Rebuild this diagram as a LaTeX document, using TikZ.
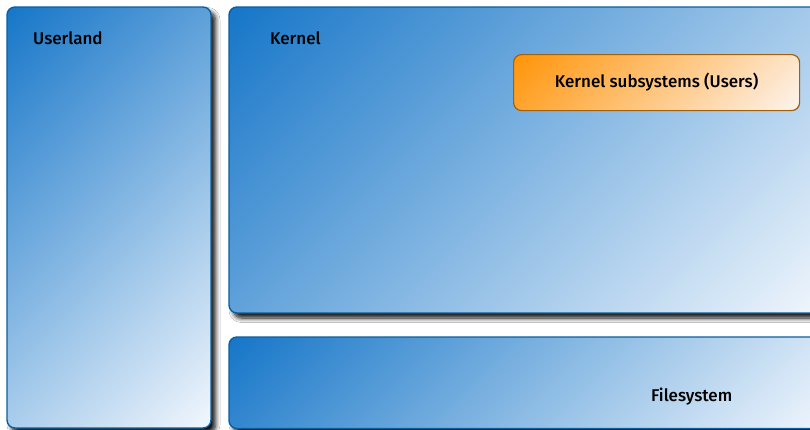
\documentclass[tikz,border=0pt]{standalone}
\usepackage{fontspec}
\setmainfont{Fira Sans}[BoldFont={* Medium}]
\usetikzlibrary{shadows.blur}
\definecolor{bluetop}{HTML}{1676C8}
\definecolor{bluebot}{HTML}{F2F7FD}
\definecolor{blueline}{HTML}{0B5F9C}
\definecolor{orangetop}{HTML}{FF9408}
\definecolor{orangebot}{HTML}{FDF4EE}
\definecolor{orangeline}{HTML}{A0600E}
\pgfdeclareverticalshading{panelshade}{100bp}{color(0bp)=(bluebot); color(14.6bp)=(bluebot); color(85.4bp)=(bluetop); color(100bp)=(bluetop)}
\pgfdeclareverticalshading{subshade}{100bp}{color(0bp)=(orangebot); color(14.6bp)=(orangebot); color(85.4bp)=(orangetop); color(100bp)=(orangetop)}
\tikzset{
  panel/.style={draw=blueline, line width=1.4pt, rounded corners=8pt,
    shading=panelshade, shading angle=45,
    blur shadow={shadow xshift=4.5pt, shadow yshift=-5pt, shadow blur radius=4.5pt, shadow opacity=95, shadow blur steps=8}},
  subbox/.style={draw=orangeline, line width=1.2pt, rounded corners=8pt,
    shading=subshade, shading angle=45},
  lbl/.style={font=\fontsize{17}{20}\selectfont\bfseries, text=black, inner sep=0pt, anchor=west}
}
\begin{document}
\begin{tikzpicture}[x=1pt,y=-1pt]
\useasboundingbox (0,0) rectangle (810,429);
\clip (0,0) rectangle (810,429);
\fill[white] (0,0) rectangle (810,429);
\path[panel] (7,7) rectangle (211,428);
\node[lbl] (userland) at (33,38.5) {Userland};
\path[panel] (229,7) rectangle (830,313);
\node[lbl] (kernel) at (270,38.5) {Kernel};
\path[panel] (229,337) rectangle (830,428.5);
\node[lbl] (fs) at (651,396.5) {Filesystem};
\node[subbox, minimum width=286pt, minimum height=56pt, anchor=north west,
  font=\fontsize{17}{20}\selectfont\bfseries] (subsys) at (513,54) {Kernel subsystems (Users)};
\end{tikzpicture}
\end{document}
